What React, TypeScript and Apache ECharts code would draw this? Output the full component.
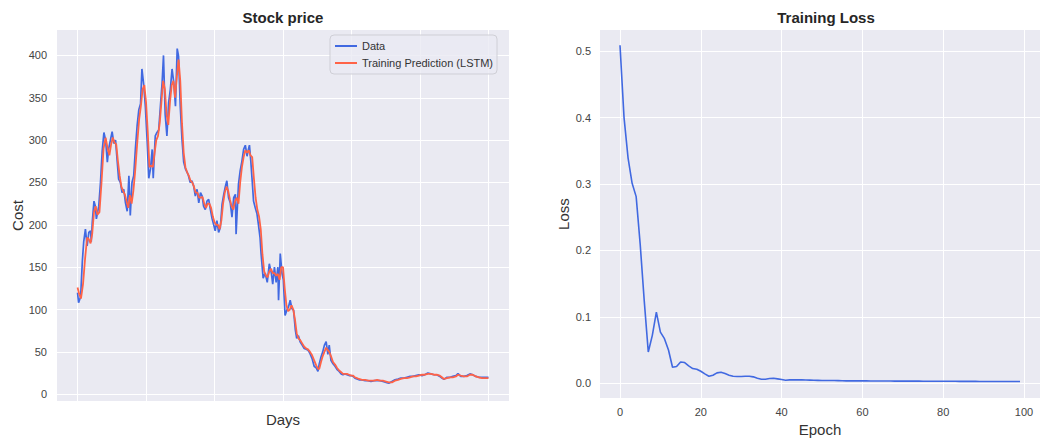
import React, { useEffect, useRef } from "react";
import * as echarts from "echarts";

const FONT = "'Liberation Sans', Arial, sans-serif";

const stockDays = [0,3,9,14,18,23,28,33,38,40,43,48,52,55,62,67,72,77,82,87,91,96,101,106,111,116,120,125,130,135,140,145,150,154,159,164,169,174,179,184,188,193,198,203,208,213,218,221,227,232,237,242,247,251,256,261,266,271,276,281,286,291,295,300,305,310,315,320,324,329,334,339,344,349,354,359,364,368,373,378,383,388,393,397,402,407,412,417,422,427,431,436,441,446,451,456,461,463,470,475,480,485,490,495,499,502,506,510,514,519,524,528,533,536,542,548,554,560,566,570,575,580,585,587,592,597,601,606,611,616,621,626,631,636,640,645,650,656,662,668,673,679,685,691,697,702,706,711,716,721,726,731,735,740,746,752,758,764,770,775,781,787,793,799,805,810,816,822,831,840,848,857,866,875,883,892,901,909,918,927,936,944,953,962,971,979,988,997,1006,1014,1023,1032,1041,1049,1058,1064,1070,1079,1088,1096,1105,1111,1119,1128,1137,1146,1154,1163,1172,1181,1190,1200];
const stockPrices = [120,108,115,157,180,195,175,191,193,180,203,228,222,207,222,250,287,309,300,274,290,300,310,296,300,274,254,250,238,242,226,216,258,211,250,258,290,317,336,343,384,366,340,301,255,266,289,255,305,309,312,340,368,400,330,305,344,360,384,368,340,408,399,340,301,274,266,262,258,250,252,246,234,242,226,238,234,222,218,228,230,218,207,201,193,205,191,197,224,236,244,252,232,226,209,232,236,189,248,264,275,289,294,281,289,294,275,252,228,220,213,201,185,166,137,143,132,154,143,130,150,132,150,111,166,143,135,93,99,103,111,101,99,76,66,69,62,58,54,53,52,48,42,33,31,27,36,44,50,58,62,47,58,40,36,33,29,27,24,23,24,23,22,22,21,19,18,17,17,16,16,15,16,16,16,15,14,13,15,17,18,19,19,20,21,21,22,23,22,23,25,24,23,23,21,19,17.5,20,20,21,22,24.5,21,21,22,24,23,21,20,20,20,20];

const predDays = [0,5,10,16,22,28,33,38,43,48,53,58,64,70,76,82,88,93,98,103,108,113,118,123,128,133,138,143,148,153,158,163,168,174,180,185,190,195,200,205,210,215,220,225,230,235,240,245,250,255,260,265,270,275,280,285,290,295,300,305,310,315,320,325,330,335,340,345,350,355,360,365,370,375,380,385,390,395,400,405,410,415,420,425,430,435,440,445,450,455,460,465,470,475,480,485,490,495,500,505,510,515,520,525,530,535,540,545,550,555,560,565,570,575,580,585,590,595,600,605,610,615,620,625,630,635,640,645,650,656,662,668,673,679,685,691,697,702,706,711,716,721,726,731,735,740,746,752,758,764,770,775,781,787,793,799,805,810,816,822,831,840,848,857,866,875,883,892,901,909,918,927,936,944,953,962,971,979,988,997,1006,1014,1023,1032,1041,1049,1058,1064,1070,1079,1088,1096,1105,1111,1119,1128,1137,1146,1154,1163,1172,1181,1190,1200];
const predPrices = [126,118,113,130,160,185,183,178,190,215,222,212,215,250,290,303,290,282,295,303,297,295,275,258,245,240,236,228,220,235,225,240,262,295,325,340,360,365,345,310,268,270,268,285,300,305,320,345,370,360,330,318,345,365,370,350,375,395,370,320,285,268,262,258,252,250,245,238,238,232,232,233,225,220,225,225,220,210,203,200,200,195,205,225,238,245,240,230,222,218,228,232,225,250,268,280,288,285,288,282,280,255,232,218,210,195,165,145,140,138,145,148,143,143,140,142,135,150,150,125,105,98,100,105,100,88,72,66,64,60,56,54,53,50,46,40,34,30,30,38,45,50,55,52,50,45,38,35,31,28,26,24,24,24,23,22,22,20,19,18,17,17,16,16,16,17,16,16,15,14,14,16,17,18,19,19,20,21,21,22,23,23,24,24,23,23,22,20,18,19,20,20,21,23,22,21,21,23,23,21,20,19,19,19];

const stockTicksX = [0, 200, 400, 600, 800, 1000, 1200];
const stockTicksY = [0, 50, 100, 150, 200, 250, 300, 350, 400];

const lossValues = [0.509,0.400,0.339,0.301,0.281,0.209,0.124,0.047,0.072,0.107,0.077,0.067,0.050,0.024,0.025,0.032,0.031,0.026,0.022,0.021,0.018,0.014,0.0105,0.012,0.0155,0.0165,0.0145,0.012,0.0105,0.010,0.010,0.0105,0.0105,0.0095,0.0075,0.006,0.006,0.007,0.0075,0.0065,0.0055,0.0045,0.005,0.005,0.005,0.005,0.0048,0.0046,0.0044,0.0042,0.004,0.004,0.0041,0.004,0.0038,0.0036,0.0035,0.0036,0.0035,0.0035,0.0034,0.0034,0.0033,0.0033,0.0033,0.0032,0.0032,0.0032,0.0031,0.0031,0.0031,0.0030,0.0030,0.0030,0.0030,0.0029,0.0029,0.0029,0.0029,0.0028,0.0028,0.0028,0.0028,0.0028,0.0027,0.0027,0.0027,0.0027,0.0027,0.0026,0.0026,0.0026,0.0026,0.0026,0.0026,0.0025,0.0025,0.0025,0.0025,0.0025];
const lossTicksX = [0, 20, 40, 60, 80, 100];
const lossTicksY = [0, 0.1, 0.2, 0.3, 0.4, 0.5];

const BG = "#EAEAF2";
const LABEL = { color: "#444", fontSize: 11, fontFamily: FONT };
const NAME = { color: "#333", fontSize: 15, fontFamily: FONT };
const TITLE = { fontSize: 15, fontWeight: "bold", color: "#262626", fontFamily: FONT };

export default function App() {
  const ref = useRef<HTMLDivElement>(null);
  useEffect(() => {
    const chart = echarts.init(ref.current!, null, { renderer: "svg" });
    const split = { show: true, lineStyle: { color: "#ffffff", width: 1 } };
    chart.setOption({
      animation: false,
      backgroundColor: "#ffffff",
      title: [
        { text: "Stock price", left: 283, top: 10, padding: 0, textAlign: "center", textStyle: TITLE },
        { text: "Training Loss", left: 826, top: 10, padding: 0, textAlign: "center", textStyle: TITLE },
      ],
      legend: {
        data: ["Data", "Training Prediction (LSTM)"],
        orient: "vertical",
        left: 330,
        top: 35,
        icon: "rect",
        itemWidth: 22,
        itemHeight: 2,
        itemGap: 5,
        padding: [5, 4, 5, 5],
        backgroundColor: "rgba(234,234,242,0.8)",
        borderColor: "#cfcfd6",
        borderWidth: 1,
        borderRadius: 4,
        textStyle: { color: "#333", fontSize: 11, fontFamily: FONT, lineHeight: 12 },
      },
      grid: [
        { left: 57, right: 531, top: 30, bottom: 41, show: true, backgroundColor: BG, borderWidth: 0 },
        { left: 600, right: -13, top: 30, bottom: 41, show: true, backgroundColor: BG, borderWidth: 0 },
      ],
      xAxis: [
        {
          type: "value", gridIndex: 0, min: -60, max: 1260,
          name: "Days", nameLocation: "middle", nameGap: 11, nameTextStyle: NAME,
          axisLine: { show: false },
          axisTick: { show: false, customValues: stockTicksX },
          axisLabel: { show: false, customValues: stockTicksX },
          splitLine: split,
        },
        {
          type: "value", gridIndex: 1, min: -4.95, max: 103.95,
          name: "Epoch", nameLocation: "middle", nameGap: 22, nameTextStyle: NAME,
          axisLine: { show: false },
          axisTick: { show: false, customValues: lossTicksX },
          axisLabel: { ...LABEL, margin: 8, customValues: lossTicksX },
          splitLine: split,
        },
      ],
      yAxis: [
        {
          type: "value", gridIndex: 0, min: -8, max: 430,
          name: "Cost", nameLocation: "middle", nameGap: 32, nameTextStyle: NAME,
          axisLine: { show: false },
          axisTick: { show: false, customValues: stockTicksY },
          axisLabel: { ...LABEL, margin: 10, customValues: stockTicksY },
          splitLine: split,
        },
        {
          type: "value", gridIndex: 1, min: -0.0225, max: 0.532,
          name: "Loss", nameLocation: "middle", nameGap: 29, nameTextStyle: NAME,
          axisLine: { show: false },
          axisTick: { show: false, customValues: lossTicksY },
          axisLabel: { ...LABEL, margin: 9, customValues: lossTicksY,
            formatter: (v: number) => v.toFixed(1) },
          splitLine: split,
        },
      ],
      series: [
        {
          name: "Data", type: "line", xAxisIndex: 0, yAxisIndex: 0,
          data: stockDays.map((d, i) => [d, stockPrices[i]]),
          symbol: "none", lineStyle: { color: "#4169E1", width: 1.7 }, itemStyle: { color: "#4169E1" },
        },
        {
          name: "Training Prediction (LSTM)", type: "line", xAxisIndex: 0, yAxisIndex: 0,
          data: predDays.map((d, i) => [d, predPrices[i]]),
          symbol: "none", lineStyle: { color: "#FF6347", width: 1.8 }, itemStyle: { color: "#FF6347" },
        },
        {
          name: "Loss", type: "line", xAxisIndex: 1, yAxisIndex: 1,
          data: lossValues.map((v, i) => [i, v]),
          symbol: "none", lineStyle: { color: "#4169E1", width: 1.6 }, itemStyle: { color: "#4169E1" },
        },
      ],
    });
    return () => chart.dispose();
  }, []);
  return (
    <div
      ref={ref}
      style={{ position: "absolute", left: 0, top: 0, width: 1040, height: 442 }}
    />
  );
}
